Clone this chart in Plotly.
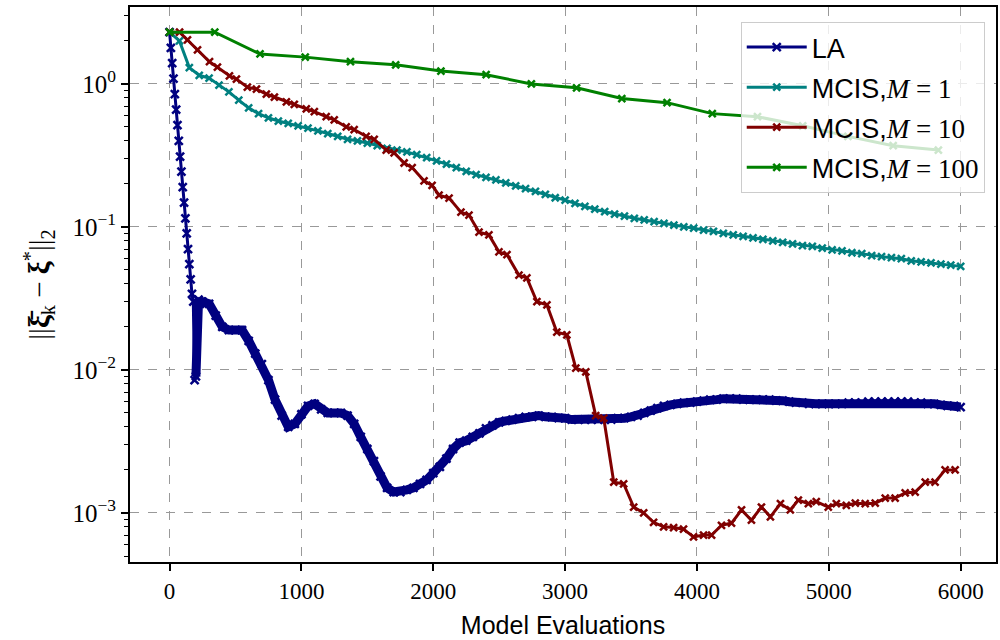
import plotly.graph_objects as go

# ---------------- data ----------------
LA_x = list(range(0, 250, 10)) + list(range(250, 6001, 50))
LA_y = [2.30, 1.79, 1.40, 1.09, 0.85, 0.66, 0.515, 0.40, 0.31, 0.244,
        0.19, 0.148, 0.115, 0.090, 0.070, 0.055, 0.043, 0.034, 0.030, 0.0085,
        0.0090, 0.026, 0.031, 0.029, 0.030,
        # 250 ..
        0.030, 0.029, 0.024, 0.020, 0.019, 0.019, 0.019, 0.016, 0.013, 0.011,
        0.0085, 0.0062, 0.0048, 0.0040, 0.0042, 0.0049, 0.0056, 0.0058, 0.0053, 0.0050,
        0.0050, 0.0050, 0.0048, 0.0042, 0.0034, 0.0028, 0.0023, 0.0018, 0.0015, 0.0014,
        0.0014, 0.00145, 0.0015, 0.0016, 0.0017, 0.0019, 0.0021, 0.0024, 0.0028, 0.0031,
        0.0032, 0.0034, 0.0036, 0.0039, 0.0041, 0.0043, 0.0044, 0.0045, 0.0046, 0.0047,
        0.0047, 0.0048, 0.0047, 0.0047, 0.0046, 0.0046, 0.0045, 0.0045, 0.0045, 0.0045,
        0.0045, 0.0045, 0.0045, 0.0046, 0.0046, 0.0047, 0.0048, 0.0050, 0.0052, 0.0054,
        0.0056, 0.0057, 0.0058, 0.0059, 0.0059, 0.0060, 0.0061, 0.0062, 0.0062, 0.0063,
        0.0063, 0.0063, 0.0062, 0.0062, 0.0062, 0.0062, 0.0062, 0.0061, 0.0061, 0.0060,
        0.0059, 0.0059, 0.0058, 0.0058, 0.0058, 0.0058, 0.0058, 0.0058, 0.0059, 0.0059,
        0.0059, 0.0060, 0.0060, 0.0060, 0.0060, 0.0060, 0.0060, 0.0060, 0.0059, 0.0059,
        0.0058, 0.0058, 0.0057, 0.0056, 0.0056, 0.0055]

M1_x = list(range(0, 6001, 75))
M1_y = [2.30, 2.00, 1.30, 1.15, 1.10, 0.98, 0.88, 0.77, 0.68, 0.62,
        0.58, 0.55, 0.53, 0.51, 0.49, 0.47, 0.45, 0.43, 0.41, 0.40,
        0.385, 0.37, 0.355, 0.345, 0.335, 0.32, 0.305, 0.29, 0.275, 0.26,
        0.245, 0.232, 0.222, 0.213, 0.203, 0.194, 0.185, 0.177, 0.169, 0.160,
        0.154, 0.146, 0.139, 0.133, 0.128, 0.123, 0.119, 0.115, 0.112, 0.109,
        0.106, 0.103, 0.100, 0.098, 0.095, 0.093, 0.090, 0.088, 0.086, 0.084,
        0.082, 0.080, 0.078, 0.076, 0.074, 0.073, 0.071, 0.069, 0.068, 0.066,
        0.065, 0.063, 0.062, 0.061, 0.060, 0.058, 0.057, 0.056, 0.055, 0.054,
        0.053]

M10_x = [0, 76, 136, 212, 303, 363, 454, 507, 590, 659,
         734, 795, 886, 946, 1037, 1098, 1188, 1249, 1340, 1400,
         1491, 1552, 1643, 1703, 1779, 1840, 1930, 1991, 2044, 2120,
         2210, 2271, 2347, 2422, 2498, 2559, 2650, 2710, 2786, 2862,
         2937, 3013, 3081, 3157, 3232, 3293, 3369, 3444, 3520, 3596,
         3671, 3747, 3823, 3898, 3974, 4050, 4111, 4186, 4262, 4338,
         4413, 4489, 4557, 4633, 4708, 4769, 4845, 4905, 4996, 5057,
         5133, 5201, 5276, 5352, 5428, 5503, 5579, 5655, 5731, 5806,
         5882, 5958]
M10_y = [2.30, 2.30, 2.03, 1.73, 1.43, 1.31, 1.14, 1.08, 0.95, 0.92,
         0.85, 0.81, 0.75, 0.72, 0.67, 0.64, 0.59, 0.56, 0.50, 0.48,
         0.43, 0.41, 0.345, 0.33, 0.28, 0.26, 0.21, 0.195, 0.167, 0.159,
         0.127, 0.121, 0.092, 0.088, 0.067, 0.064, 0.046, 0.044, 0.030, 0.0285,
         0.0184, 0.0176, 0.0103, 0.0097, 0.0048, 0.0046, 0.00164, 0.0016, 0.0011, 0.0010,
         0.00086, 0.00080, 0.00079, 0.00077, 0.00068, 0.00070, 0.00070, 0.00082, 0.00085, 0.00105,
         0.00089, 0.00110, 0.00094, 0.00116, 0.00105, 0.00123, 0.00116, 0.00120, 0.00110, 0.00116,
         0.00113, 0.00117, 0.00116, 0.00117, 0.00127, 0.00127, 0.00138, 0.00140, 0.00164, 0.00164,
         0.0020, 0.0020]

M100_x = [0, 343, 686, 1029, 1372, 1715, 2058, 2401, 2744, 3087,
          3430, 3773, 4116, 4459, 4802, 5145, 5488, 5831]
M100_y = [2.30, 2.30, 1.62, 1.54, 1.43, 1.36, 1.23, 1.16, 1.00, 0.94,
          0.79, 0.74, 0.62, 0.59, 0.51, 0.43, 0.37, 0.345]

series_names = ["LA", "MCIS,", "MCIS,", "MCIS,"]
M_labels = ["", "1", "10", "100"]
colors = ["#000080", "#008080", "#800000", "#008000"]

y_tickvals = [1e-3, 1e-2, 1e-1, 1e0]
y_ticktext = ["10<sup>−3</sup>", "10<sup>−2</sup>", "10<sup>−1</sup>", "10<sup>0</sup>"]
x_tickvals = [0, 1000, 2000, 3000, 4000, 5000, 6000]

# ---------------- figure ----------------
SERIF = "Liberation Serif, DejaVu Serif, serif"
SANS = "Liberation Sans, Noto Sans, sans-serif"

fig = go.Figure()

def label(i):
    if M_labels[i] == "":
        return series_names[i]
    return (series_names[i] + "<span style='font-family:Liberation Serif'><i>M</i>\u2005=\u2005"
            + M_labels[i] + "</span>")

# thick band for dense LA portion (no legend)
start = LA_x.index(200)
fig.add_trace(go.Scatter(x=LA_x[start:], y=LA_y[start:], mode="lines",
                         line=dict(color=colors[0], width=9),
                         showlegend=False, hoverinfo="skip", legendgroup="g0"))

all_x = [LA_x, M1_x, M10_x, M100_x]
all_y = [LA_y, M1_y, M10_y, M100_y]
for i in range(4):
    fig.add_trace(go.Scatter(
        x=all_x[i], y=all_y[i], mode="lines+markers", name=label(i),
        legendgroup="g%d" % i,
        line=dict(color=colors[i], width=3),
        marker=dict(symbol="x-thin", size=8 if i == 0 else 7,
                    line=dict(color=colors[i], width=2.5), color=colors[i]),
    ))

fig.update_layout(
    width=1000, height=640,
    margin=dict(l=130, r=2, t=7, b=78),
    paper_bgcolor="white", plot_bgcolor="white",
    showlegend=True,
    legend=dict(
        x=0.987, y=0.973, xanchor="right", yanchor="top",
        bgcolor="rgba(255,255,255,0.8)", bordercolor="#cccccc", borderwidth=1,
        font=dict(family=SANS, size=27, color="black"),
        traceorder="grouped", tracegroupgap=2,
        itemwidth=60,
    ),
    xaxis=dict(
        range=[-300, 6268], tickmode="array", tickvals=x_tickvals,
        ticks="outside", ticklen=7, tickwidth=1.5, tickcolor="black",
        showline=True, linecolor="black", linewidth=2, mirror=True,
        showgrid=True, gridcolor="#999999", griddash="dash", gridwidth=1,
        zeroline=False,
        tickfont=dict(family=SERIF, size=23, color="black"),
        title=dict(text="Model Evaluations", font=dict(family=SANS, size=25, color="black"),
                   standoff=14),
    ),
    yaxis=dict(
        type="log", range=[-3.343, 0.538],
        tickmode="array", tickvals=y_tickvals, ticktext=y_ticktext,
        ticks="outside", ticklen=7, tickwidth=1.5, tickcolor="black",
        showline=True, linecolor="black", linewidth=2, mirror=True,
        showgrid=True, gridcolor="#999999", griddash="dash", gridwidth=1,
        zeroline=False,
        tickfont=dict(family=SERIF, size=25, color="black"),
        minor=dict(tickmode="array",
                   tickvals=[5e-4, 6e-4, 7e-4, 8e-4, 9e-4,
                             2e-3, 3e-3, 4e-3, 5e-3, 6e-3, 7e-3, 8e-3, 9e-3,
                             2e-2, 3e-2, 4e-2, 5e-2, 6e-2, 7e-2, 8e-2, 9e-2,
                             2e-1, 3e-1, 4e-1, 5e-1, 6e-1, 7e-1, 8e-1, 9e-1,
                             2, 3],
                   ticks="outside", ticklen=4, tickwidth=1, tickcolor="black",
                   showgrid=False),
        title=dict(text="||<b>ξ̄</b><sub>k</sub> − <b>ξ</b><sup>*</sup>||<sub>2</sub>",
                   font=dict(family=SERIF, size=29, color="black"), standoff=14),
    ),
)

fig.write_html("out.html")
